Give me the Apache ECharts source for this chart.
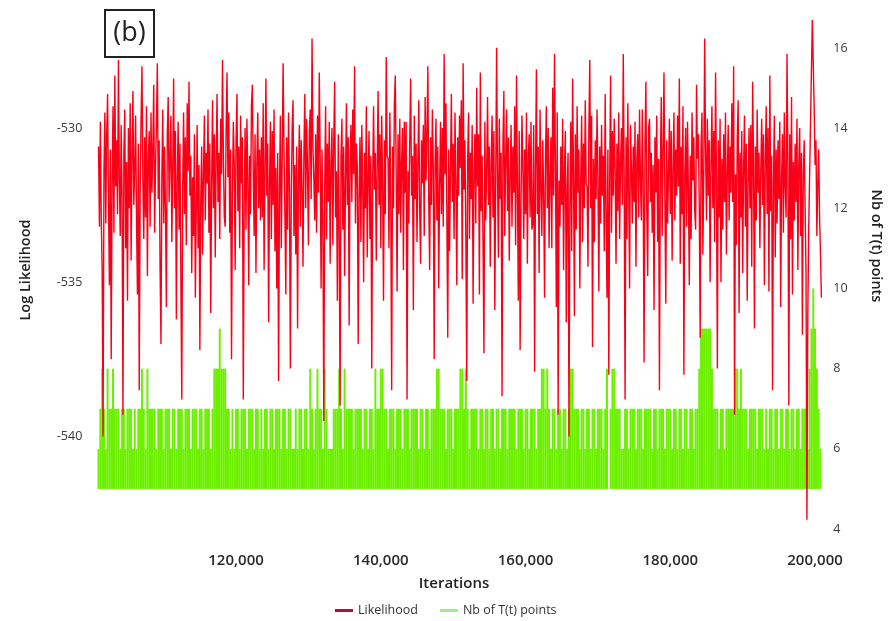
<!DOCTYPE html>
<html>
<head>
<meta charset="utf-8">
<script src="https://cdn.jsdelivr.net/npm/echarts@6/dist/echarts.min.js"></script>
<style>
html,body{margin:0;padding:0;background:#fff;}
#chart{width:894px;height:621px;}
</style>
</head>
<body>
<div id="chart"></div>
<script>
// MCMC iterations: likelihood sampled every 125 iterations, T(t) count every 250, both from 101,000
const iterStart = 101000;
const likStep = 125;
const nbStep = 250;

// Log likelihood trace (left axis)
const likelihood = [
-530.6,-533.2,-529.8,-532.9,-534.6,-540.0,-531.4,-529.5,-533.1,-530.2,-528.9,-532.4,-535.1,-530.7,-537.5,-531.6,-529.3,-533.4,-528.3,-531.9,
-530.4,-532.8,-527.8,-531.7,-533.5,-529.9,-532.2,-539.3,-530.8,-529.4,-533.9,-531.1,-535.6,-530.0,-532.6,-529.2,-534.3,-530.9,-528.8,-532.5,
-531.3,-529.6,-533.0,-535.4,-530.5,-538.5,-532.0,-529.7,-528.0,-531.8,-533.6,-530.3,-532.9,-529.3,-534.8,-531.0,-530.1,-533.2,-529.5,-532.1,
-530.7,-528.6,-533.4,-531.2,-529.9,-527.9,-532.3,-530.4,-534.5,-537.0,-531.5,-529.4,-533.1,-530.6,-532.7,-535.8,-530.2,-529.0,-532.4,-531.0,
-529.6,-533.7,-531.3,-528.4,-532.6,-530.1,-536.2,-531.7,-529.8,-533.3,-530.5,-534.9,-538.8,-531.9,-529.5,-532.8,-530.3,-533.8,-529.2,-531.4,
-528.5,-532.2,-530.9,-534.7,-531.6,-533.5,-530.2,-535.5,-532.7,-529.9,-533.9,-531.2,-537.2,-532.3,-530.6,-534.1,-531.5,-529.6,-533.0,-530.8,
-531.8,-529.4,-533.4,-530.5,-536.0,-531.9,-529.1,-532.6,-530.2,-534.2,-531.0,-528.9,-532.4,-530.8,-533.6,-529.7,-531.5,-527.8,-530.9,-532.9,
-533.2,-530.1,-528.2,-531.6,-529.5,-533.4,-530.7,-537.5,-532.1,-529.8,-531.2,-534.6,-530.4,-528.9,-532.7,-530.6,-533.9,-529.6,-531.8,-530.3,
-538.8,-532.4,-530.0,-533.3,-529.7,-531.6,-535.1,-530.9,-532.8,-529.3,-528.6,-531.4,-533.5,-530.2,-534.7,-531.1,-529.5,-532.6,-530.7,-533.0,
-530.3,-532.9,-529.2,-534.6,-531.4,-528.4,-532.2,-530.5,-536.3,-531.8,-529.8,-533.6,-530.1,-532.5,-529.4,-534.0,-531.3,-535.2,-530.8,-538.2,
-532.0,-529.6,-533.9,-531.1,-527.9,-530.7,-532.8,-535.4,-530.3,-533.3,-529.5,-531.9,-537.8,-532.4,-530.0,-529.1,-533.5,-531.2,-534.1,-530.6,
-536.5,-531.5,-529.9,-533.2,-530.4,-532.0,-534.5,-530.8,-528.9,-532.6,-529.7,-531.3,-533.8,-530.1,-529.4,-532.3,-527.1,-530.6,-531.7,-533.0,
-530.2,-533.4,-529.6,-532.1,-528.2,-531.0,-535.2,-530.7,-532.9,-539.5,-531.8,-529.3,-533.6,-530.5,-532.4,-529.8,-534.4,-531.2,-530.0,-533.8,
-530.4,-528.5,-532.9,-531.4,-535.6,-530.2,-533.2,-539.0,-531.0,-529.7,-533.3,-530.6,-534.8,-531.7,-529.2,-532.5,-530.3,-536.4,-531.1,-529.9,
-532.4,-529.4,-531.5,-528.0,-533.1,-530.5,-531.2,-537.0,-532.2,-530.3,-533.7,-529.9,-531.9,-535.0,-530.8,-532.6,-529.3,-534.2,-531.6,-530.1,
-533.6,-530.9,-537.8,-531.7,-529.3,-532.0,-530.8,-534.3,-531.3,-528.8,-532.5,-530.2,-533.9,-529.6,-531.9,-535.6,-530.4,-532.8,-527.7,-530.9,
-531.0,-533.9,-529.5,-532.3,-538.5,-530.6,-532.6,-529.2,-528.3,-531.5,-535.3,-530.2,-532.8,-529.7,-533.4,-531.1,-530.0,-534.6,-529.8,-532.1,
-529.8,-538.8,-531.4,-533.1,-530.3,-528.4,-532.2,-530.9,-535.9,-529.6,-532.3,-530.5,-533.7,-531.2,-529.1,-532.7,-534.4,-530.4,-531.8,-529.9,
-533.5,-529.0,-531.7,-530.2,-528.0,-532.4,-534.6,-530.3,-532.5,-529.4,-531.3,-537.5,-531.1,-529.7,-533.0,-530.6,-535.2,-531.9,-529.8,-532.8,
-530.0,-533.2,-527.6,-531.5,-529.2,-532.9,-536.8,-530.7,-534.0,-531.4,-528.9,-532.4,-530.5,-533.6,-529.5,-531.8,-535.1,-530.3,-532.2,-529.6,
-531.3,-529.1,-534.9,-527.9,-532.0,-530.4,-533.5,-538.2,-531.0,-529.5,-533.6,-530.8,-532.3,-529.9,-535.7,-531.5,-530.2,-533.1,-528.7,-531.9,
-530.2,-535.4,-528.2,-532.7,-530.9,-533.8,-537.3,-529.8,-533.0,-531.4,-529.0,-532.5,-530.6,-534.5,-531.2,-529.6,-532.9,-530.1,-535.9,-531.7,
-527.4,-531.6,-534.2,-529.7,-532.3,-530.8,-538.7,-530.5,-528.8,-533.5,-531.0,-529.4,-532.7,-530.3,-534.3,-531.5,-529.9,-533.2,-530.6,-532.1,
-529.3,-533.8,-528.3,-531.9,-535.6,-530.1,-537.2,-532.4,-529.6,-531.2,-533.6,-530.7,-532.8,-529.5,-534.4,-531.0,-530.2,-532.9,-529.8,-533.3,
-533.1,-529.9,-537.9,-531.3,-528.1,-532.8,-530.6,-534.7,-529.4,-531.8,-533.5,-530.4,-532.1,-535.5,-530.9,-529.3,-532.6,-530.0,-533.9,-531.5,
-530.3,-533.9,-528.7,-532.2,-527.6,-531.1,-535.8,-529.5,-539.3,-531.7,-533.2,-530.6,-532.5,-529.7,-534.6,-531.3,-530.1,-536.3,-532.0,-530.8,
-540.0,-532.5,-529.8,-534.0,-528.4,-531.4,-536.1,-530.2,-533.3,-529.3,-532.1,-530.7,-535.2,-531.6,-529.6,-533.7,-530.5,-532.6,-529.1,-531.8,
-531.9,-534.5,-530.0,-527.8,-532.6,-529.6,-537.1,-531.0,-533.7,-530.4,-532.3,-529.4,-531.6,-535.3,-530.6,-533.1,-529.9,-532.2,-530.9,-534.0,
-528.9,-532.9,-535.5,-530.7,-538.0,-531.6,-528.3,-533.4,-530.1,-532.2,-529.7,-531.3,-534.4,-530.5,-532.7,-529.5,-533.6,-531.1,-530.0,-532.5,
-527.6,-531.5,-538.8,-530.3,-533.6,-529.2,-532.0,-535.2,-529.9,-531.3,-533.1,-530.6,-532.4,-529.8,-534.5,-531.0,-530.2,-532.9,-529.4,-531.7,
-533.0,-529.4,-531.8,-537.6,-530.5,-528.5,-532.7,-534.8,-530.0,-529.7,-532.4,-530.8,-533.4,-531.2,-535.9,-530.3,-532.1,-529.6,-533.7,-531.0,
-538.5,-531.2,-529.0,-533.5,-530.8,-528.2,-532.3,-535.7,-530.4,-533.1,-531.5,-529.7,-532.8,-530.1,-534.3,-531.3,-529.5,-533.0,-530.7,-532.2,
-529.6,-531.9,-528.4,-534.4,-530.6,-532.8,-529.3,-538.0,-531.5,-530.0,-533.2,-529.8,-532.0,-535.1,-530.9,-533.6,-529.5,-531.7,-530.3,-532.7,
-533.3,-528.6,-531.0,-530.2,-532.5,-536.8,-530.6,-529.5,-534.1,-531.4,-527.1,-530.8,-533.0,-529.7,-532.2,-530.4,-535.0,-531.1,-529.3,-532.6,
-530.1,-533.7,-528.2,-531.6,-537.8,-530.4,-532.9,-529.7,-535.0,-531.0,-533.3,-530.2,-532.4,-529.5,-534.1,-531.5,-529.9,-533.0,-530.6,-532.1,
-529.2,-532.4,-528.0,-539.3,-531.5,-533.8,-530.3,-529.1,-536.0,-530.8,-532.9,-530.1,-534.7,-531.3,-529.6,-533.2,-530.5,-535.6,-531.8,-530.0,
-532.6,-529.9,-534.5,-528.5,-531.2,-536.5,-530.6,-533.0,-529.4,-532.1,-530.8,-533.9,-531.4,-529.7,-532.5,-530.2,-535.1,-531.0,-529.3,-532.8,
-530.0,-535.3,-528.3,-532.7,-530.9,-538.5,-531.8,-529.6,-534.2,-530.7,-533.1,-530.4,-532.3,-529.8,-535.8,-531.6,-530.2,-533.4,-529.5,-531.9,
-532.9,-527.6,-531.3,-539.0,-530.2,-533.6,-529.0,-535.4,-531.1,-533.0,-530.5,-532.4,-529.7,-534.6,-531.2,-530.0,-533.5,-530.8,-536.7,-531.5,
-530.4,-532.6,-534.7,-542.7,-536.0,-533.2,-531.5,-529.8,-528.1,-526.5,-527.9,-529.3,-531.2,-530.4,-533.5,-531.8,-530.7,-532.9,-534.1,-535.5
];

// Number of T(t) points (right axis)
const nbPoints = [
6,7,8,7,6,8,7,7,8,7, 7,7,6,7,7,6,7,7,7,6,
7,6,7,7,8,7,6,8,7,7, 7,7,6,7,7,7,6,7,7,7,
6,7,7,6,7,7,7,6,7,7, 7,6,7,7,7,6,7,7,6,7,
7,7,6,7,8,8,8,9,8,8, 8,7,7,6,7,6,7,7,6,7,
7,7,6,7,7,7,6,7,7,6, 7,6,7,7,6,7,7,6,7,7,
7,6,7,7,6,7,7,6,6,7, 6,7,7,6,7,7,6,8,7,6,
7,8,7,7,6,8,7,6,6,6, 7,7,7,8,7,6,8,7,7,7,
7,6,7,7,7,7,6,7,7,6, 7,7,6,8,7,7,8,8,7,7,
6,7,7,7,6,7,7,7,6,7, 7,7,6,7,7,7,7,6,7,7,
6,7,7,6,7,7,7,8,8,7, 7,7,6,7,7,7,6,7,7,7,
8,8,7,8,7,6,7,7,7,7, 6,7,7,6,7,7,6,7,7,6,
7,7,6,7,7,7,6,7,7,7, 7,6,7,7,7,6,7,7,6,7,
7,7,6,7,7,8,8,7,8,7, 6,7,7,6,7,7,6,7,7,6,
7,8,8,7,7,7,6,7,7,6, 7,7,6,7,7,6,7,7,7,6,
7,8,5,7,8,8,7,7,7,6, 6,7,7,6,7,7,7,6,7,7,
7,6,7,7,7,7,6,7,7,6, 7,7,7,6,7,7,7,6,7,7,
6,7,7,6,7,7,6,7,7,6, 7,7,8,9,9,9,9,9,9,8,
7,7,7,6,7,7,6,7,7,7, 7,7,8,8,7,8,7,7,7,6,
7,7,7,7,6,7,7,7,6,7, 6,7,7,6,7,7,6,7,7,6,
7,7,6,7,7,6,7,7,6,7, 7,7,6,8,9,10,9,8,7,6
];

const nbBaseline = 5; // lowest number of T(t) points; columns rise from here
const xTickLabels = ['120,000','140,000','160,000','180,000','200,000'];
const xTickValues = [120000, 140000, 160000, 180000, 200000];
const leftTicks = [-540, -535, -530];
const rightTicks = [4, 6, 8, 10, 12, 14, 16];

const redData = likelihood.map((v, i) => [iterStart + i * likStep, v]);
const greenData = nbPoints.map((v, i) => [iterStart + i * nbStep, v]);

const chart = echarts.init(document.getElementById('chart'));
const FONT = "'Open Sans', 'Noto Sans', sans-serif";
const GREEN = '#6cf000';

chart.setOption({
  animation: false,
  backgroundColor: '#ffffff',
  grid: { left: 91.3, right: 71.7, top: 20, bottom: 92, containLabel: false },
  xAxis: {
    type: 'value', min: 100000, max: 201000, interval: 20000,
    axisLine: { show: false }, axisTick: { show: false }, splitLine: { show: false },
    axisLabel: {
      margin: 24, fontFamily: FONT, fontSize: 15, fontWeight: 600, color: '#2a2a2a',
      showMinLabel: false,
      formatter: v => {
        const idx = xTickValues.indexOf(v);
        return idx >= 0 ? xTickLabels[idx] : '';
      }
    }
  },
  yAxis: [
    {
      type: 'value', min: -543, max: -526.5, interval: 1,
      axisLine: { show: false }, axisTick: { show: false }, splitLine: { show: false },
      axisLabel: {
        margin: 9, fontFamily: FONT, fontSize: 12.5, color: '#3a3a3a',
        formatter: v => leftTicks.indexOf(Math.round(v * 10) / 10) >= 0 ? String(v) : ''
      }
    },
    {
      type: 'value', min: 4, max: 16.7, interval: 2, position: 'right',
      axisLine: { show: false }, axisTick: { show: false }, splitLine: { show: false },
      axisLabel: {
        margin: 11, fontFamily: FONT, fontSize: 12.5, color: '#3a3a3a',
        formatter: v => rightTicks.indexOf(v) >= 0 ? String(v) : ''
      }
    }
  ],
  legend: {
    left: 330, top: 599, itemWidth: 18, itemHeight: 3, itemGap: 22, icon: 'rect',
    textStyle: { fontFamily: FONT, fontSize: 12.5, color: '#333' },
    data: [
      { name: 'Likelihood', itemStyle: { color: '#b0103e' } },
      { name: 'Nb of T(t) points', itemStyle: { color: '#9fee8e' } }
    ]
  },
  series: [
    {
      name: 'Nb of T(t) points', type: 'custom', xAxisIndex: 0, yAxisIndex: 1,
      data: greenData, encode: { x: 0, y: 1 }, itemStyle: { color: GREEN }, z: 1,
      renderItem: (params, api) => {
        const x = api.value(0), v = api.value(1);
        const top = api.coord([x, v]);
        const bot = api.coord([x, nbBaseline]);
        return {
          type: 'rect',
          shape: { x: top[0] - 1, y: top[1], width: 2, height: bot[1] - top[1] },
          style: { fill: GREEN }
        };
      }
    },
    {
      name: 'Likelihood', type: 'line', yAxisIndex: 0,
      showSymbol: false, data: redData,
      lineStyle: { width: 1.4, color: '#fa0018' },
      itemStyle: { color: '#fa0018' },
      z: 3
    }
  ],
  graphic: [
    { type: 'rect', shape: { x: 105, y: 10, width: 49, height: 47 },
      style: { fill: 'none', stroke: '#222', lineWidth: 2 } },
    { type: 'text', x: 129.5, y: 33.5,
      style: { text: '(b)', font: "27px 'Open Sans', sans-serif", fill: '#222', textAlign: 'center', textVerticalAlign: 'middle' } },
    { type: 'text', x: 454, y: 584,
      style: { text: 'Iterations', font: "600 15px 'Open Sans', sans-serif", fill: '#222', textAlign: 'center', textVerticalAlign: 'middle' } },
    { type: 'text', x: 26, y: 270, rotation: Math.PI / 2,
      style: { text: 'Log Likelihood', font: "600 14.5px 'Open Sans', sans-serif", fill: '#222', textAlign: 'center', textVerticalAlign: 'middle' } },
    { type: 'text', x: 876, y: 246, rotation: -Math.PI / 2,
      style: { text: 'Nb of T(t) points', font: "600 14.5px 'Open Sans', sans-serif", fill: '#222', textAlign: 'center', textVerticalAlign: 'middle' } }
  ]
});
</script>
</body>
</html>
